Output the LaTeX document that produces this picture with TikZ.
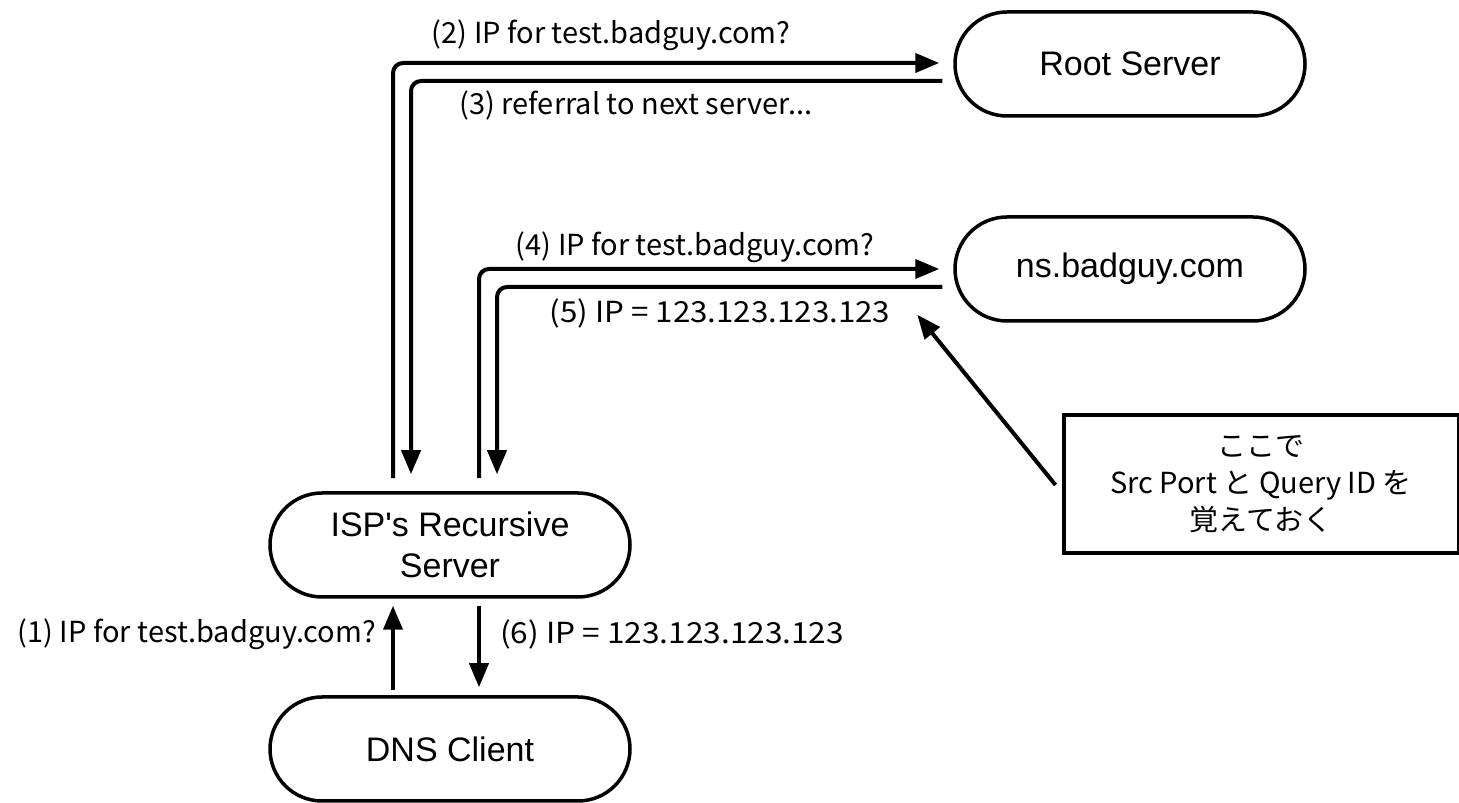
\documentclass[tikz,border=0pt]{standalone}
\usepackage{fontspec}
\newfontfamily\nodefont{Liberation Sans}
\newfontfamily\jpfont{Noto Sans CJK JP}
\usetikzlibrary{arrows.meta}
\begin{document}
\begin{tikzpicture}[x=1pt,y=1pt,
  srv/.style={draw, line width=3.5pt, rectangle, rounded corners=52pt,
    minimum width=350pt, minimum height=104pt, align=center,
    font=\nodefont\fontsize{34}{41}\selectfont},
  srvb/.style={srv, minimum width=360pt},
  conn/.style={line width=4pt, rounded corners=10pt,
    -{Triangle[length=24pt,width=19pt]}},
  lbl/.style={inner sep=0pt, font=\jpfont\fontsize{29}{34}\selectfont},
  notebox/.style={draw, line width=4pt, minimum width=395pt, minimum height=138pt,
    align=center, font=\jpfont\fontsize{29}{37}\selectfont}
]
\useasboundingbox (0,0) rectangle (1459,803);
\node[srv] (root) at (1130,739) {Root Server};
\node[srv] (ns) at (1130,534) {ns.badguy.com};
\node[srvb] (isp) at (450,258) {ISP's Recursive\\Server};
\node[srvb] (dns) at (450,54) {DNS Client};
\node[notebox] (note) at (1261,319) {ここで\\Src Port と Query ID を\\覚えておく};

\draw[conn] ([xshift=-57pt,yshift=13pt]isp.north) |- ([xshift=-14pt,yshift=1pt]root.west);
\draw[conn] ([xshift=-11pt,yshift=-17pt]root.west) -| ([xshift=-39pt,yshift=17pt]isp.north);
\draw[conn] ([xshift=29pt,yshift=13pt]isp.north) |- ([xshift=-14pt]ns.west);
\draw[conn] ([xshift=-11pt,yshift=-18pt]ns.west) -| ([xshift=47pt,yshift=17pt]isp.north);
\draw[conn] ([xshift=-57pt,yshift=5pt]dns.north) -- ([xshift=-57pt,yshift=-7pt]isp.south);
\draw[conn] ([xshift=29pt,yshift=-7pt]isp.south) -- ([xshift=29pt,yshift=8pt]dns.north);
\draw[conn] ([xshift=-6pt,yshift=-1pt]note.west) -- ([xshift=-36pt,yshift=8pt]ns.south west);

\node[lbl] (l2) at (611,768) {(2) IP for test.badguy.com?};
\node[lbl] (l3) at (636,698) {(3) referral to next server...};
\node[lbl] (l4) at (695,556) {(4) IP for test.badguy.com?};
\node[lbl] (l5) at (720,490) {\scalebox{1.08}[1]{(5) IP = 123.123.123.123}};
\node[lbl, anchor=east] (l1) at (376,169) {(1) IP for test.badguy.com?};
\node[lbl, anchor=west] (l6) at (500,169) {\scalebox{1.09}[1]{(6) IP = 123.123.123.123}};
\end{tikzpicture}
\end{document}
